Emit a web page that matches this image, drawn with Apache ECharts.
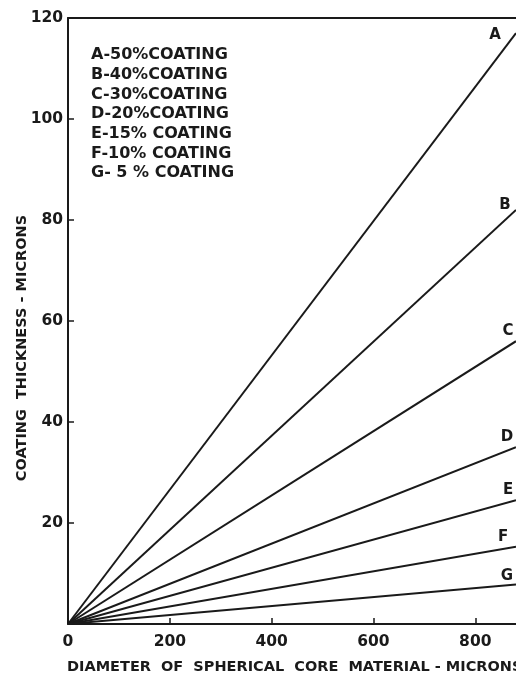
<!DOCTYPE html>
<html>
<head>
<meta charset="utf-8">
<script src="https://cdn.jsdelivr.net/npm/echarts@6/dist/echarts.min.js"></script>
<style>html,body{margin:0;padding:0;background:#fff}#c{width:516px;height:676px}</style>
</head>
<body>
<div id="c"></div>
<script>
// Data
const curveNames = ['A', 'B', 'C', 'D', 'E', 'F', 'G'];
const coreDiameters = [0, 880];            // microns (x)
const thicknessA = [0, 117];
const thicknessB = [0, 82];
const thicknessC = [0, 56];
const thicknessD = [0, 35];
const thicknessE = [0, 24.5];
const thicknessF = [0, 15.3];
const thicknessG = [0, 7.8];
const legendLines = [
  'A-50%COATING',
  'B-40%COATING',
  'C-30%COATING',
  'D-20%COATING',
  'E-15% COATING',
  'F-10% COATING',
  'G- 5 % COATING'
];
const xTicks = [0, 200, 400, 600, 800];
const yTicks = [0, 20, 40, 60, 80, 100, 120];

const allThickness = [thicknessA, thicknessB, thicknessC, thicknessD, thicknessE, thicknessF, thicknessG];
// label offsets (style, not data)
const labelOffsets = [[-21, 2], [-11, -5], [-8, -10], [-9, -10], [-8, -10], [-13, -10], [-9, -9]];

const FONT = 'DejaVu Sans';
const INK = '#1a1a1a';

const chart = echarts.init(document.getElementById('c'), null, {renderer: 'canvas'});

const series = curveNames.map((n, i) => ({
  type: 'line',
  name: n,
  symbol: 'circle',
  symbolSize: 0.1,
  showSymbol: true,
  silent: true,
  animation: false,
  lineStyle: {color: INK, width: 2},
  itemStyle: {color: INK},
  data: coreDiameters.map((x, j) => {
    const pt = {value: [x, allThickness[i][j]]};
    if (j === coreDiameters.length - 1) {
      pt.label = {
        show: true, formatter: n, position: 'inside', offset: labelOffsets[i],
        fontFamily: FONT, fontWeight: 'bold', fontSize: 15, color: INK
      };
    }
    return pt;
  })
}));

const graphics = legendLines.map((t, i) => ({
  type: 'text',
  left: 91,
  top: 47 + i * 19.7,
  style: {text: t, fontFamily: FONT, fontWeight: 'bold', fontSize: 16, fill: INK}
}));
graphics.push({
  type: 'text',
  x: 22, y: 348,
  rotation: Math.PI / 2,
  style: {text: 'COATING  THICKNESS - MICRONS', fontFamily: FONT, fontWeight: 'bold', fontSize: 14.5,
          fill: INK, align: 'center', verticalAlign: 'middle'}
});
graphics.push({
  type: 'text',
  left: 67, top: 660,
  style: {text: 'DIAMETER  OF  SPHERICAL  CORE  MATERIAL - MICRONS', fontFamily: FONT, fontWeight: 'bold',
          fontSize: 14.5, fill: INK}
});

chart.setOption({
  animation: false,
  backgroundColor: '#fff',
  grid: {left: 68, right: 0, top: 18, bottom: 52, containLabel: false},
  xAxis: [{
    type: 'value', min: 0, max: 880, interval: 200,
    axisLine: {show: true, lineStyle: {color: INK, width: 2}},
    axisTick: {show: true, inside: true, length: 6, lineStyle: {color: INK, width: 1.5}, customValues: xTicks},
    axisLabel: {
      fontFamily: FONT, fontWeight: 'bold', fontSize: 15.5, color: INK, margin: 10,
      customValues: xTicks
    },
    splitLine: {show: false}
  }, {
    type: 'value', position: 'top', min: 0, max: 880,
    axisLine: {show: true, lineStyle: {color: INK, width: 2}},
    axisTick: {show: false}, axisLabel: {show: false}, splitLine: {show: false}
  }],
  yAxis: {
    type: 'value', min: 0, max: 120, interval: 20,
    axisLine: {show: true, lineStyle: {color: INK, width: 2}},
    axisTick: {show: true, inside: true, length: 6, lineStyle: {color: INK, width: 1.5}},
    axisLabel: {fontFamily: FONT, fontWeight: 'bold', fontSize: 15.5, color: INK, margin: 5,
      formatter: v => (v === 0 ? '' : String(v))},
    splitLine: {show: false}
  },
  graphic: graphics,
  series: series
});
</script>
</body>
</html>
